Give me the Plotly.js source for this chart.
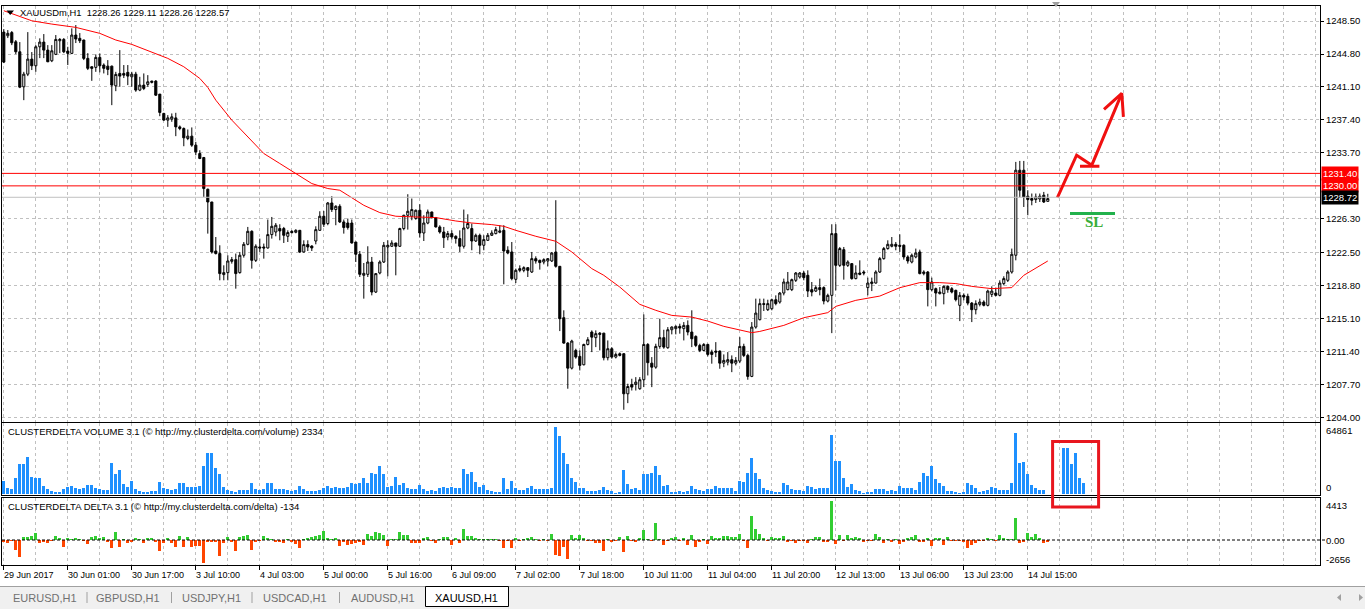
<!DOCTYPE html>
<html><head><meta charset="utf-8">
<script src="https://cdn.plot.ly/plotly-3.0.1.min.js"></script>
<style>html,body{margin:0;padding:0;background:#fff;}#chart{width:1365px;height:609px;}</style>
</head><body><div id="chart"></div>
<script>
// ---------- DATA ----------
const opens=[1247.26,1246.85,1247.21,1246.17,1245.05,1241.12,1242.54,1244.23,1243.48,1245.61,
1246.14,1245.24,1244.04,1244.76,1246.29,1246.44,1245.13,1244.87,1246.93,1246.56,
1246.37,1244.31,1243.37,1243.30,1244.42,1243.56,1243.44,1243.44,1241.23,1242.62,
1242.62,1242.74,1242.24,1242.54,1240.75,1241.31,1241.39,1241.61,1241.76,1240.30,
1238.13,1237.38,1237.49,1237.63,1236.62,1236.44,1235.32,1235.58,1234.57,1233.63,
1233.18,1229.62,1228.19,1222.69,1222.40,1220.04,1220.26,1221.53,1221.72,1220.26,
1222.21,1223.44,1224.90,1221.64,1223.14,1223.14,1223.03,1224.53,1224.82,1225.21,
1225.21,1224.34,1224.90,1224.79,1225.01,1222.58,1223.41,1223.25,1223.81,1225.01,
1226.59,1225.77,1228.08,1227.34,1227.71,1225.95,1225.83,1225.83,1223.70,1222.32,
1219.96,1220.07,1221.45,1218.08,1220.22,1221.45,1223.14,1223.22,1223.59,1223.22,
1225.21,1226.70,1226.59,1226.33,1227.26,1224.71,1225.83,1227.07,1226.44,1225.39,
1224.82,1224.26,1224.64,1224.34,1224.08,1223.22,1225.27,1225.21,1223.81,1224.45,
1223.33,1223.89,1224.45,1224.64,1224.79,1225.01,1222.77,1222.58,1219.51,1220.71,
1220.52,1220.82,1220.33,1221.83,1221.64,1221.45,1221.57,1221.57,1222.58,1220.97,
1215.20,1212.35,1209.54,1211.53,1210.86,1209.92,1212.20,1213.59,1212.96,1213.47,
1213.47,1210.71,1211.72,1210.78,1211.16,1211.16,1206.66,1207.71,1207.71,1207.23,
1208.24,1212.20,1210.10,1209.65,1211.98,1212.96,1211.83,1213.85,1213.97,1214.23,
1213.97,1214.34,1213.59,1213.10,1212.09,1211.53,1212.20,1211.34,1211.45,1211.45,
1210.10,1210.22,1210.49,1210.10,1210.33,1211.98,1210.97,1208.61,1214.15,1214.98,
1216.78,1216.10,1216.21,1217.22,1216.96,1217.97,1218.35,1218.35,1219.40,1219.77,
1220.22,1219.96,1218.35,1218.19,1218.58,1218.58,1217.07,1217.71,1224.64,1221.08,
1222.84,1221.08,1221.27,1219.59,1220.22,1220.33,1218.58,1219.03,1219.09,1220.33,
1221.83,1222.96,1223.22,1223.44,1223.33,1223.33,1222.02,1221.45,1222.02,1222.58,
1220.15,1220.33,1218.35,1218.46,1217.90,1217.90,1218.72,1218.46,1218.27,1216.59,
1217.71,1217.60,1216.84,1216.10,1216.70,1216.96,1216.59,1217.82,1217.97,1217.71,
1219.03,1219.40,1220.33,1222.21,1231.76,1231.76,1228.84,1228.58,1228.46,1228.53,
1228.95,1228.26];
const highs=[1247.60,1247.49,1247.38,1246.37,1246.14,1242.80,1247.26,1245.02,1245.80,1246.56,
1247.04,1245.80,1245.80,1246.93,1246.59,1246.59,1245.61,1247.68,1248.05,1247.15,
1246.40,1244.90,1243.40,1244.76,1244.87,1243.75,1244.12,1243.50,1242.80,1245.24,
1243.56,1243.56,1242.80,1242.80,1242.24,1242.62,1242.43,1241.79,1241.87,1240.30,
1238.20,1237.94,1238.13,1238.20,1236.78,1236.56,1236.33,1236.56,1234.94,1234.00,
1233.25,1229.70,1228.20,1224.26,1223.33,1221.08,1222.21,1222.02,1222.40,1222.58,
1223.70,1225.39,1225.01,1223.44,1224.08,1223.52,1226.22,1226.51,1225.83,1225.69,
1225.39,1225.01,1225.01,1225.13,1225.05,1223.89,1223.89,1223.33,1225.46,1227.15,
1227.18,1228.19,1228.84,1227.82,1227.94,1226.22,1226.33,1226.22,1223.70,1222.69,
1221.34,1223.22,1222.02,1220.22,1221.64,1223.70,1223.89,1223.89,1223.60,1225.30,
1226.75,1229.06,1228.58,1227.34,1227.94,1226.70,1227.34,1227.10,1226.51,1225.58,
1225.39,1224.94,1225.01,1224.45,1225.01,1227.34,1226.81,1225.77,1224.64,1224.64,
1224.45,1224.71,1225.01,1225.39,1225.58,1225.58,1223.22,1223.70,1220.71,1221.08,
1220.97,1220.85,1222.58,1222.09,1221.72,1221.87,1221.85,1222.58,1228.39,1221.00,
1216.03,1212.46,1212.73,1211.72,1211.53,1212.28,1213.02,1213.78,1213.78,1213.59,
1213.50,1212.65,1211.90,1211.30,1211.30,1211.20,1207.79,1208.35,1208.53,1208.53,
1215.57,1212.35,1210.78,1212.28,1215.09,1213.85,1214.15,1214.23,1214.34,1214.53,
1214.71,1214.90,1216.03,1213.22,1212.28,1212.35,1212.28,1211.61,1212.46,1211.53,
1211.08,1211.34,1210.97,1210.78,1213.02,1212.28,1211.16,1214.71,1217.34,1217.34,
1217.34,1217.22,1217.34,1217.71,1218.08,1219.59,1220.33,1219.59,1220.33,1220.33,
1220.44,1220.52,1219.21,1218.84,1219.59,1218.72,1217.90,1225.69,1225.69,1223.14,
1223.14,1221.64,1221.34,1221.08,1221.64,1220.52,1219.70,1219.70,1220.52,1222.02,
1223.14,1223.89,1224.26,1223.70,1224.56,1223.44,1222.21,1222.40,1222.96,1222.84,
1220.52,1220.44,1219.70,1218.58,1218.64,1218.84,1218.84,1218.64,1218.35,1218.08,
1217.93,1217.90,1216.96,1217.15,1217.34,1217.15,1218.35,1218.72,1218.58,1219.40,
1219.85,1220.52,1222.96,1232.69,1232.80,1232.80,1229.51,1229.14,1229.14,1229.14,
1229.32,1229.11];
const lows=[1243.78,1246.59,1245.80,1244.79,1240.97,1239.62,1242.32,1243.00,1242.80,1244.34,
1244.34,1243.89,1243.89,1244.68,1244.90,1244.90,1243.56,1244.79,1246.03,1246.03,
1244.12,1243.00,1241.79,1242.80,1242.74,1242.62,1242.43,1239.06,1240.63,1241.12,
1242.10,1241.31,1241.12,1240.56,1240.63,1240.75,1241.12,1241.50,1240.10,1237.82,
1237.30,1236.62,1237.19,1235.58,1236.25,1234.45,1235.13,1234.38,1233.44,1233.00,
1228.76,1224.64,1222.40,1222.30,1219.40,1219.40,1219.40,1221.27,1218.46,1220.15,
1221.95,1223.33,1220.71,1221.45,1222.58,1221.83,1222.96,1224.08,1224.34,1223.89,
1223.59,1223.70,1224.64,1224.68,1222.46,1222.51,1222.69,1222.69,1223.44,1224.94,
1225.39,1225.58,1227.07,1225.58,1225.83,1224.64,1225.09,1223.52,1221.45,1219.77,
1217.34,1219.77,1217.71,1217.97,1220.07,1221.34,1219.85,1223.14,1219.96,1223.14,
1225.01,1225.09,1226.14,1226.20,1224.19,1223.81,1225.69,1226.33,1225.32,1224.64,
1223.03,1223.89,1223.97,1223.52,1222.58,1222.96,1225.13,1222.77,1223.70,1222.32,
1222.77,1223.81,1224.37,1224.56,1224.68,1218.95,1222.32,1219.40,1219.09,1220.30,
1220.30,1219.77,1220.22,1221.27,1220.60,1221.19,1220.97,1221.45,1220.82,1213.70,
1212.28,1207.23,1209.39,1210.60,1209.28,1209.85,1212.09,1211.34,1211.90,1211.53,
1210.41,1210.41,1210.60,1210.63,1210.86,1204.87,1205.61,1207.03,1207.03,1207.11,
1207.41,1208.72,1207.41,1209.47,1211.72,1211.72,1211.72,1213.33,1213.33,1213.41,
1212.65,1213.22,1211.90,1211.90,1211.34,1211.42,1210.86,1210.04,1210.78,1209.47,
1209.65,1209.85,1209.09,1209.85,1210.10,1210.78,1208.24,1208.53,1213.97,1214.90,
1215.95,1215.95,1216.03,1216.59,1216.78,1217.71,1218.27,1218.19,1219.21,1219.59,
1219.40,1217.52,1217.60,1218.08,1217.71,1216.70,1216.92,1213.47,1218.27,1220.90,
1219.47,1220.90,1219.47,1219.51,1219.96,1219.96,1217.71,1218.19,1219.03,1220.22,
1221.72,1222.84,1223.10,1222.77,1222.58,1221.72,1221.27,1221.30,1221.87,1220.07,
1219.96,1216.47,1218.15,1216.47,1217.82,1216.70,1218.00,1217.93,1217.03,1214.82,
1217.15,1216.59,1214.71,1215.57,1216.47,1216.47,1216.47,1217.52,1217.60,1217.60,
1218.84,1219.21,1220.15,1221.64,1228.72,1227.63,1226.70,1227.82,1228.08,1228.19,
1228.08,1228.26];
const closes=[1243.89,1247.12,1246.06,1245.05,1241.08,1242.54,1244.23,1243.48,1245.61,1246.14,
1245.24,1243.93,1245.16,1246.44,1246.44,1245.05,1244.87,1246.93,1246.48,1246.29,
1244.31,1243.19,1243.19,1244.42,1243.48,1243.19,1243.07,1241.31,1242.51,1242.32,
1242.43,1242.32,1242.54,1240.75,1241.31,1240.94,1241.68,1241.76,1240.18,1238.24,
1237.38,1237.63,1237.75,1236.62,1236.44,1235.39,1235.58,1234.57,1233.81,1233.07,
1229.70,1228.19,1222.58,1222.40,1220.15,1220.26,1221.57,1221.72,1220.15,1222.21,
1223.44,1224.90,1221.64,1223.22,1223.03,1223.03,1224.53,1225.46,1225.58,1224.94,
1224.45,1224.76,1224.76,1225.01,1222.58,1223.41,1223.14,1223.03,1225.09,1226.59,
1225.69,1228.08,1227.34,1227.71,1225.95,1225.32,1225.32,1223.59,1222.32,1220.07,
1220.18,1221.45,1218.08,1220.15,1221.45,1223.33,1223.33,1223.59,1223.22,1225.21,
1226.70,1227.15,1227.34,1227.26,1224.71,1225.83,1227.07,1226.44,1225.39,1224.82,
1224.19,1224.64,1224.26,1224.08,1223.22,1225.27,1225.77,1223.81,1224.45,1223.33,
1223.97,1224.45,1224.71,1225.09,1224.94,1222.69,1222.46,1219.59,1220.52,1220.52,
1220.82,1220.52,1221.83,1221.57,1221.39,1221.72,1221.83,1222.46,1220.97,1215.09,
1212.35,1209.54,1212.58,1210.78,1209.85,1212.20,1212.73,1213.02,1213.41,1213.33,
1210.71,1211.72,1210.78,1211.08,1210.97,1206.66,1207.48,1207.41,1207.97,1208.24,
1212.20,1210.15,1209.65,1211.98,1212.96,1211.90,1213.85,1214.15,1214.23,1214.04,
1214.34,1213.59,1212.84,1212.09,1211.53,1212.20,1211.08,1211.08,1211.34,1210.10,
1210.41,1210.49,1210.10,1210.41,1211.98,1210.97,1208.61,1214.15,1215.72,1216.78,
1216.70,1216.78,1217.22,1216.78,1217.97,1219.21,1219.21,1219.47,1220.22,1220.22,
1219.70,1218.19,1218.08,1218.58,1218.35,1217.07,1217.71,1224.64,1221.08,1222.96,
1221.08,1221.45,1219.59,1220.22,1220.07,1220.22,1219.09,1219.21,1220.33,1221.83,
1222.96,1223.44,1223.44,1223.22,1223.22,1222.02,1221.57,1222.21,1222.46,1220.15,
1220.33,1218.35,1219.21,1217.97,1218.08,1218.72,1218.35,1218.08,1217.23,1217.71,
1217.52,1216.84,1216.10,1216.78,1216.96,1216.59,1218.19,1218.19,1217.71,1219.09,
1219.59,1220.33,1222.32,1231.76,1229.51,1228.76,1228.46,1228.39,1228.76,1228.84,
1228.19,1228.57];

// moving average (bar index, price)
const maIdx=[0,7,12,18,24,28,32,37,41,45,49,51,53,57,61,65,69,73,77,81,84,86,90,94,98,103,108,113,117,122,125,128,133,138,142,147,150,154,159,163,167,172,176,180,187,189,195,200,206,208,213,219,224,229,234,238,242,247,252,255,261];
const maVal=[1249.66,1248.53,1248.16,1247.79,1247.12,1246.37,1245.88,1245.05,1244.31,1243.37,1242.06,1241.05,1239.62,1237.38,1235.50,1233.63,1232.51,1231.38,1230.26,1229.70,1229.51,1228.95,1227.82,1227.00,1226.59,1226.51,1226.44,1226.06,1225.83,1225.65,1225.46,1225.01,1224.34,1223.78,1222.58,1220.71,1219.96,1218.64,1216.70,1216.03,1215.46,1215.27,1214.82,1214.23,1213.52,1213.66,1214.34,1215.20,1215.77,1216.47,1217.15,1217.63,1218.57,1219.14,1219.14,1219.03,1218.72,1218.46,1218.58,1219.96,1221.57];

// CLUSTERDELTA volume per bar (index 0..270, gap after 260)
const volumes=[12640,5540,4860,15840,29160,29160,36260,16820,15260,15260,
8070,4570,2920,2240,2240,4860,7100,7780,6120,4860,
6120,8750,8750,5540,4860,3890,3890,30420,19150,23330,
9720,7100,12640,4860,3210,2240,1650,2920,2920,11960,
5540,4860,3890,4860,10400,10400,7100,7100,7100,7780,
27510,39560,39560,24980,19150,7100,3890,2920,2240,3890,
3890,3890,10980,4860,3890,4860,10400,10400,4860,4860,
4860,3890,3210,3890,7780,4860,3210,2920,2920,3890,
5540,7780,5540,7100,5540,5540,7100,10980,9430,10980,
15260,10400,20120,19440,27510,19150,7100,7780,16820,8750,
10400,5540,4860,4860,8750,4860,2920,3890,3210,5540,
7100,5540,7100,6120,6120,24300,19150,21680,11960,7100,
8750,3890,2920,2240,2240,15840,4860,12640,5540,3890,
3890,5540,8070,4570,4860,4570,4570,6120,64861,56670,
40140,28870,15260,11370,5540,5540,3210,3210,3210,3890,
7100,3890,2920,1260,2240,23330,9720,4860,5540,3890,
19440,19440,20700,27220,18470,7780,8750,2240,2240,2920,
2240,2920,7780,4570,3890,2920,4570,4860,7780,5540,
5540,5540,5540,2920,12640,11370,20700,34700,20700,14290,
6120,3890,2920,1940,1940,10400,8750,4570,3890,3890,
2920,7780,6510,4570,5540,6120,6120,57350,32080,32080,
15260,7100,9720,3890,2920,1260,2240,2240,4570,4570,
4860,2920,3890,2920,7780,6120,5540,5540,3890,11370,
20120,17790,27220,14290,10980,7780,2920,2920,2240,1260,
2240,10980,8750,5540,2240,2920,3890,6510,5540,3890,
3890,3890,10980,59580,30420,31400,19440,8750,5540,3890,
3890,null,null,null,null,44420,44420,29160,39560,15840,10980];

// CLUSTERDELTA delta per bar (index 0..261)
const deltas=[-191,-382,-115,-1146,-1986,382,382,458,840,-306,
-191,-306,-115,458,191,-764,191,115,267,76,
-76,-497,306,458,267,306,-191,-955,879,-764,
115,-382,-191,191,115,-306,191,267,-191,-1222,
-306,191,-306,-840,458,-840,382,-764,-688,-688,
-2656,-191,-191,-191,-1795,-382,306,-191,-1222,382,
458,573,-1146,-191,-115,458,191,76,-191,-191,
-306,115,-191,-458,-879,115,191,306,458,573,
1031,191,76,191,-688,-191,-573,-458,-306,-191,
-573,688,458,955,840,573,-688,115,76,955,
573,573,-306,-306,-382,191,306,-115,-306,115,
306,382,-573,191,-306,1261,458,458,191,115,
115,115,115,115,-115,-879,-115,-879,191,-115,
115,191,306,115,-115,115,-115,688,-1719,-1834,
-840,-2216,573,191,573,267,-115,-115,-306,-306,
-1222,115,-191,-115,306,-1337,458,-115,-191,191,
1146,115,-76,1910,115,-573,-115,267,306,-76,
191,-573,573,-764,-191,76,-458,458,191,191,
458,458,306,382,688,-115,-879,2750,1260,688,
267,-76,306,191,267,497,-191,-76,-306,-76,
-115,-306,115,306,306,-267,-267,4413,-458,573,
-115,573,191,306,191,-191,-115,-115,688,306,
-306,115,-191,115,-458,-191,191,306,573,-191,
-191,267,-688,191,191,-573,306,-115,-115,-115,
-191,-955,-573,-306,-115,-115,267,115,-115,573,
191,115,115,2560,-306,-191,840,306,688,267,
-306,-191];

// time-axis labels, one every 16 bars
const timeLabels=["29 Jun 2017","30 Jun 01:00","30 Jun 17:00","3 Jul 10:00","4 Jul 03:00","5 Jul 00:00","5 Jul 16:00","6 Jul 09:00","7 Jul 02:00","7 Jul 18:00","10 Jul 11:00","11 Jul 04:00","11 Jul 20:00","12 Jul 13:00","13 Jul 06:00","13 Jul 23:00","14 Jul 15:00"];
const priceTicks=[1248.50,1244.80,1241.10,1237.40,1233.70,1226.30,1222.50,1218.80,1215.10,1211.40,1207.70,1204.00];
const levelPrices=[1231.40,1230.00];
const bidPrice=1228.72;
const slPrice=1226.89;
// hand-drawn arrow on the chart (bar index, price), null separates strokes
const drawIdx=[263.4,268.2,272.0,279.5,null,269.05,273.9,null,275.05,279.5,279.9];
const drawPrice=[1228.69,1233.44,1232.32,1240.38,null,1232.21,1232.21,null,1238.58,1240.38,1237.75];
const slIdx=[266.55,277.8];
const tabs=["EURUSD,H1","GBPUSD,H1","USDJPY,H1","USDCAD,H1","AUDUSD,H1","XAUUSD,H1"];

// ---------- BUILD ----------
const FONT='Liberation Sans, Arial, sans-serif';
const barIdx=opens.map((_,i)=>i);
const volIdx=volumes.map((_,i)=>i);
const deltaIdx=deltas.map((_,i)=>i);
const labelIdx=timeLabels.map((_,k)=>k*16);
const gridVals=[];for(let v=0;v<=328;v+=8)gridVals.push(v);
const minorVals=gridVals.filter(v=>!labelIdx.includes(v));
const px2x=p=>(p-2)/1318, py2y=p=>(565-p)/559;
const GRID='#C0C0C0', GD='3px,3px';

const traces=[
 {type:'candlestick',x:barIdx,open:opens,high:highs,low:lows,close:closes,xaxis:'x',yaxis:'y',
  increasing:{line:{color:'#000',width:1},fillcolor:'#fff'},
  decreasing:{line:{color:'#000',width:1},fillcolor:'#000'},whiskerwidth:0,hoverinfo:'skip'},
 {type:'scatter',mode:'lines',x:maIdx,y:maVal,xaxis:'x',yaxis:'y',line:{color:'#FF0000',width:1},hoverinfo:'skip'},
 {type:'scatter',mode:'lines',x:drawIdx,y:drawPrice,xaxis:'x',yaxis:'y',line:{color:'#F01010',width:3},connectgaps:false,hoverinfo:'skip'},
 {type:'scatter',mode:'lines',x:slIdx,y:[slPrice,slPrice],xaxis:'x',yaxis:'y',line:{color:'#22B14C',width:3},hoverinfo:'skip'},
 {type:'bar',x:volIdx,y:volumes,xaxis:'x2',yaxis:'y2',width:0.75,marker:{color:'#1E90FF',line:{width:0}},hoverinfo:'skip'},
 {type:'bar',x:deltaIdx,y:deltas,xaxis:'x3',yaxis:'y3',width:0.75,marker:{color:deltas.map(v=>v>=0?'#32CD32':'#FF4500'),line:{width:0}},hoverinfo:'skip'}
];

const xbase={range:[-0.45,329.05],showticklabels:false,zeroline:false,showline:true,mirror:true,linecolor:'#000',linewidth:1,
 showgrid:true,gridcolor:GRID,griddash:GD,tickmode:'array',tickvals:gridVals,ticks:'',fixedrange:true};
const ybase={side:'right',zeroline:false,showline:true,mirror:true,linecolor:'#000',linewidth:1,fixedrange:true};

const annotations=[];
annotations.push({xref:'paper',yref:'paper',x:px2x(18),y:py2y(12.7),xanchor:'left',yanchor:'middle',showarrow:false,
 text:'XAUUSDm,H1 &nbsp;1228.26 1229.11 1228.26 1228.57',font:{family:FONT,size:9.4,color:'#000'}});
annotations.push({xref:'paper',yref:'paper',x:px2x(6),y:py2y(431.5),xanchor:'left',yanchor:'middle',showarrow:false,
 text:'CLUSTERDELTA VOLUME 3.1 (© http://my.clusterdelta.com/volume) 2334',font:{family:FONT,size:9.5,color:'#000'}});
annotations.push({xref:'paper',yref:'paper',x:px2x(6),y:py2y(506.5),xanchor:'left',yanchor:'middle',showarrow:false,
 text:'CLUSTERDELTA DELTA 3.1 (© http://my.clusterdelta.com/delta) -134',font:{family:FONT,size:9.5,color:'#000'}});
timeLabels.forEach((t,k)=>annotations.push({xref:'x3',yref:'paper',x:labelIdx[k],y:py2y(574.5),xanchor:'left',yanchor:'middle',
 xshift:-2,showarrow:false,text:t,font:{family:FONT,size:9,color:'#000'}}));
levelPrices.forEach(p=>annotations.push({xref:'paper',yref:'y',x:px2x(1321),y:p,xanchor:'left',yanchor:'middle',showarrow:false,
 text:p.toFixed(2),bgcolor:'#FF0000',borderpad:1,font:{family:FONT,size:9.5,color:'#fff'}}));
annotations.push({xref:'paper',yref:'y',x:px2x(1321),y:bidPrice,xanchor:'left',yanchor:'middle',showarrow:false,
 text:bidPrice.toFixed(2),bgcolor:'#000',borderpad:1,font:{family:FONT,size:9.5,color:'#fff'}});
[['64861',430],['0',487],['4413',505],['0.00',540],['-2656',559]].forEach(([t,py])=>annotations.push({xref:'paper',yref:'paper',
 x:px2x(1324),y:py2y(py),xanchor:'left',yanchor:'middle',showarrow:false,text:t,font:{family:FONT,size:9.5,color:'#000'}}));
annotations.push({xref:'x',yref:'y',x:272.5,y:1225.91,xanchor:'center',yanchor:'middle',showarrow:false,text:'<b>SL</b>',
 font:{family:'Liberation Serif, serif',size:15,color:'#3AAE3A'}});
const tabCenters=[44.5,128.2,211,294.5,382.5,466];
tabs.forEach((t,k)=>annotations.push({xref:'paper',yref:'paper',x:px2x(tabCenters[k]),y:py2y(597.5),xanchor:'center',yanchor:'middle',
 showarrow:false,text:t,font:{family:FONT,size:11,color:k===5?'#000':'#707070'}}));

const shapes=[];
levelPrices.forEach(p=>shapes.push({type:'line',xref:'paper',yref:'y',x0:0,x1:1,y0:p,y1:p,line:{color:'#FF0000',width:1}}));
shapes.push({type:'line',xref:'paper',yref:'y',x0:0,x1:1,y0:bidPrice,y1:bidPrice,line:{color:'#C0C0C0',width:1}});
shapes.push({type:'line',xref:'paper',yref:'y3',x0:0,x1:px2x(1326),y0:0,y1:0,line:{color:'#000',width:1,dash:'3px,2px'}});
shapes.push({type:'rect',xref:'x',yref:'paper',x0:262.2,x1:273.7,y0:py2y(507),y1:py2y(441.5),line:{color:'#E8161E',width:3}});
shapes.push({type:'path',xref:'paper',yref:'paper',path:`M ${px2x(6.5)},${py2y(10.5)} L ${px2x(14)},${py2y(10.5)} L ${px2x(10.2)},${py2y(15)} Z`,fillcolor:'#000',line:{width:0}});
shapes.push({type:'path',xref:'paper',yref:'paper',path:`M ${px2x(1052)},${py2y(2)} L ${px2x(1060)},${py2y(2)} L ${px2x(1056)},${py2y(7)} Z`,fillcolor:'#A0A0A0',line:{width:0}});
shapes.push({type:'rect',xref:'paper',yref:'paper',x0:px2x(-5),x1:px2x(1370),y0:py2y(615),y1:py2y(586.5),fillcolor:'#F0F0F0',line:{width:0},layer:'below'});
shapes.push({type:'line',xref:'paper',yref:'paper',x0:px2x(0),x1:px2x(1365),y0:py2y(586.5),y1:py2y(586.5),line:{color:'#A0A0A0',width:1}});
shapes.push({type:'rect',xref:'paper',yref:'paper',x0:px2x(425.5),x1:px2x(508.5),y0:py2y(606.5),y1:py2y(586.5),fillcolor:'#fff',line:{color:'#000',width:1}});
[87,171.5,252,339.5].forEach(px=>shapes.push({type:'line',xref:'paper',yref:'paper',x0:px2x(px),x1:px2x(px),y0:py2y(592),y1:py2y(603),line:{color:'#A0A0A0',width:1}}));
shapes.push({type:'path',xref:'paper',yref:'paper',path:`M ${px2x(1341)},${py2y(594)} L ${px2x(1341)},${py2y(601)} L ${px2x(1337)},${py2y(597.5)} Z`,fillcolor:'#A0A0A0',line:{width:0}});
shapes.push({type:'path',xref:'paper',yref:'paper',path:`M ${px2x(1359)},${py2y(594)} L ${px2x(1359)},${py2y(601)} L ${px2x(1363)},${py2y(597.5)} Z`,fillcolor:'#A0A0A0',line:{width:0}});

const layout={
 width:1365,height:609,margin:{l:2,r:45,t:6,b:44,pad:0},paper_bgcolor:'#fff',plot_bgcolor:'#fff',showlegend:false,
 boxgap:0.25,bargap:0,hovermode:false,
 xaxis:Object.assign({},xbase,{anchor:'y',domain:[0,1],rangeslider:{visible:false}}),
 xaxis2:Object.assign({},xbase,{anchor:'y2',domain:[0,1],matches:'x'}),
 xaxis3:Object.assign({},xbase,{anchor:'y3',domain:[0,1],matches:'x',tickvals:labelIdx,ticks:'outside',ticklen:4,tickcolor:'#000',
   minor:{tickmode:'array',tickvals:minorVals,showgrid:true,gridcolor:GRID,griddash:GD,ticks:''}}),
 yaxis:Object.assign({},ybase,{domain:[py2y(421.5),1],range:[1203.55,1250.19],tickmode:'array',tickvals:priceTicks,
   ticktext:priceTicks.map(v=>v.toFixed(2)),ticks:'outside',ticklen:3,tickcolor:'#000',showgrid:true,gridcolor:GRID,griddash:GD,
   tickfont:{family:FONT,size:9.5,color:'#000'}}),
 yaxis2:Object.assign({},ybase,{domain:[py2y(495),py2y(423)],range:[-972,69012],showticklabels:false,showgrid:false,ticks:''}),
 yaxis3:Object.assign({},ybase,{domain:[0,py2y(498)],range:[-2865,4813],showticklabels:false,showgrid:false,ticks:''}),
 annotations:annotations,shapes:shapes
};
Plotly.newPlot('chart',traces,layout,{staticPlot:true,displayModeBar:false});
</script></body></html>
